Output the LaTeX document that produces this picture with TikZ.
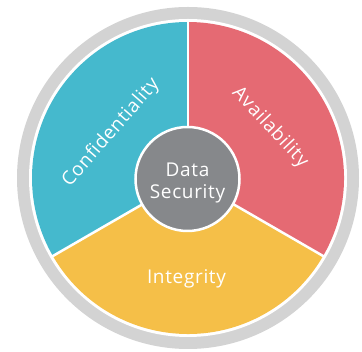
\documentclass[tikz,border=0pt]{standalone}
\usepackage{fontspec}
\setmainfont[LetterSpace=3.5]{Open Sans}
\usetikzlibrary{calc}
\definecolor{segblue}{HTML}{45B9CD}
\definecolor{segred}{HTML}{E56A73}
\definecolor{segyellow}{HTML}{F5BF48}
\definecolor{coregray}{HTML}{86888B}
\definecolor{ringgray}{HTML}{D3D3D3}
\tikzset{
  label/.style={text=white, font=\fontsize{19}{22}\selectfont, inner sep=0pt, align=center},
  divider/.style={white, line width=2.5pt},
}
\begin{document}
\begin{tikzpicture}[x=1pt,y=1pt]
\useasboundingbox (0,0) rectangle (362,352);
\coordinate (c) at (188,174);
\fill[ringgray] (c) circle (171);
\fill[white] (c) circle (159);
\fill[segblue] (c) -- ++(90:156) arc (90:210:156) -- cycle;
\fill[segred] (c) -- ++(-30:156) arc (-30:90:156) -- cycle;
\fill[segyellow] (c) -- ++(210:156) arc (210:330:156) -- cycle;
\coordinate (t1) at ($(c)+(90:157)$);
\coordinate (t2) at ($(c)+(210:157)$);
\coordinate (t3) at ($(c)+(330:157)$);
\draw[divider] (c) -- (t1);
\draw[divider] (c) -- (t2);
\draw[divider] (c) -- (t3);
\node[circle, fill=coregray, draw=white, line width=2.5pt, minimum size=104pt, inner sep=0pt] (core) at (187.5,173) {};
\node[label, anchor=base] (data) at (187.5,175) {Data};
\node[label, anchor=base] (sec) at (187.5,153) {Security};
\node[label, rotate=49] (conf) at (111,219) {Confidentiality};
\node[label, rotate=-47] (avail) at (270,224.5) {Availability};
\node[label, anchor=base] (integ) at (186.5,68) {Integrity};
\end{tikzpicture}
\end{document}
